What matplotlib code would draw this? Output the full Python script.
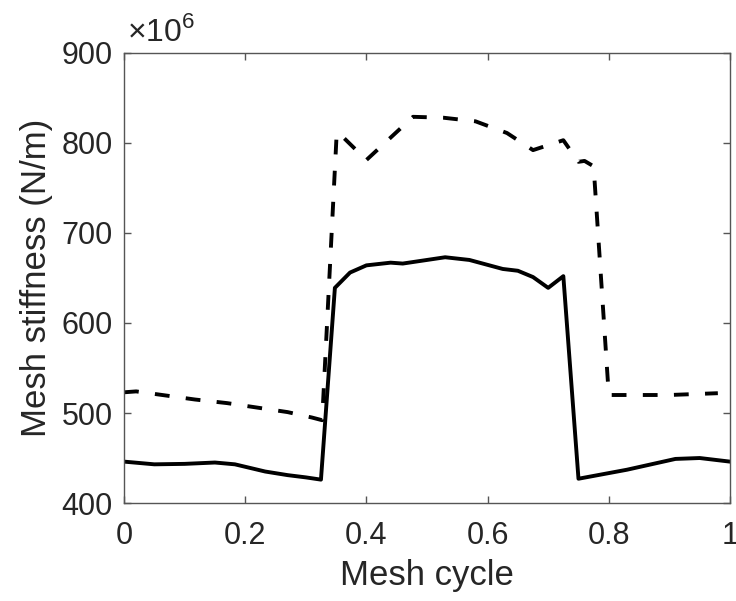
import matplotlib.pyplot as plt
import numpy as np

# mesh stiffness over one mesh cycle (values in 1e6 N/m)
solid_x = [0, 0.05, 0.10, 0.15, 0.183, 0.233, 0.27, 0.30, 0.325, 0.348, 0.373, 0.40,
           0.44, 0.46, 0.53, 0.57, 0.625, 0.65, 0.675, 0.70, 0.725, 0.75, 0.83, 0.91,
           0.95, 1.0]
solid_y = [446, 443, 443.5, 445, 443, 435, 431, 428.5, 426, 639, 656, 664,
           667, 666, 673, 670, 660, 658, 651, 639, 652, 427, 437, 449,
           450, 446]

dash_x = [0, 0.02, 0.117, 0.17, 0.22, 0.27, 0.31, 0.327, 0.351, 0.356, 0.40, 0.477,
          0.527, 0.58, 0.632, 0.675, 0.725, 0.75, 0.76, 0.775, 0.80, 0.90, 0.98]
dash_y = [523, 524, 515, 511, 506, 501, 495, 492, 811, 810, 781, 829,
          828, 824, 811, 792, 803, 779, 780, 774, 520, 520, 522]

xticks = [0, 0.2, 0.4, 0.6, 0.8, 1]
xtick_labels = ['0', '0.2', '0.4', '0.6', '0.8', '1']
yticks = [400, 500, 600, 700, 800, 900]

plt.rcParams['font.family'] = ['Liberation Sans', 'DejaVu Sans']
plt.rcParams['mathtext.fontset'] = 'custom'
plt.rcParams['mathtext.rm'] = 'Liberation Sans'

fig = plt.figure(figsize=(7.36, 6.01), dpi=100)
ax = fig.add_axes([0.1685, 0.163, 0.8233, 0.749])

ax.plot(dash_x, dash_y, color='black', lw=2.8, linestyle=(0, (3.8, 4.2)))
ax.plot(solid_x, solid_y, color='black', lw=2.8)

ax.set_xlim(0, 1)
ax.set_ylim(400, 900)
ax.set_xticks(xticks)
ax.set_xticklabels(xtick_labels)
ax.set_yticks(yticks)

axis_color = '#262626'
for s in ax.spines.values():
    s.set_color('#555555')
    s.set_linewidth(1.0)
ax.tick_params(direction='in', length=5, width=1, colors='#555555',
               labelcolor=axis_color, labelsize=22, top=True, right=True)
ax.tick_params(axis='y', pad=8)
ax.tick_params(axis='x', pad=13)

ax.set_xlabel('Mesh cycle', fontsize=25, color=axis_color, labelpad=6)
ax.set_ylabel('Mesh stiffness (N/m)', fontsize=25, color=axis_color, labelpad=6)
ax.text(0.005, 1.01, r'$\times10^{6}$', transform=ax.transAxes, fontsize=23,
        color=axis_color, ha='left', va='bottom')

fig.savefig('out.png', dpi=100)
